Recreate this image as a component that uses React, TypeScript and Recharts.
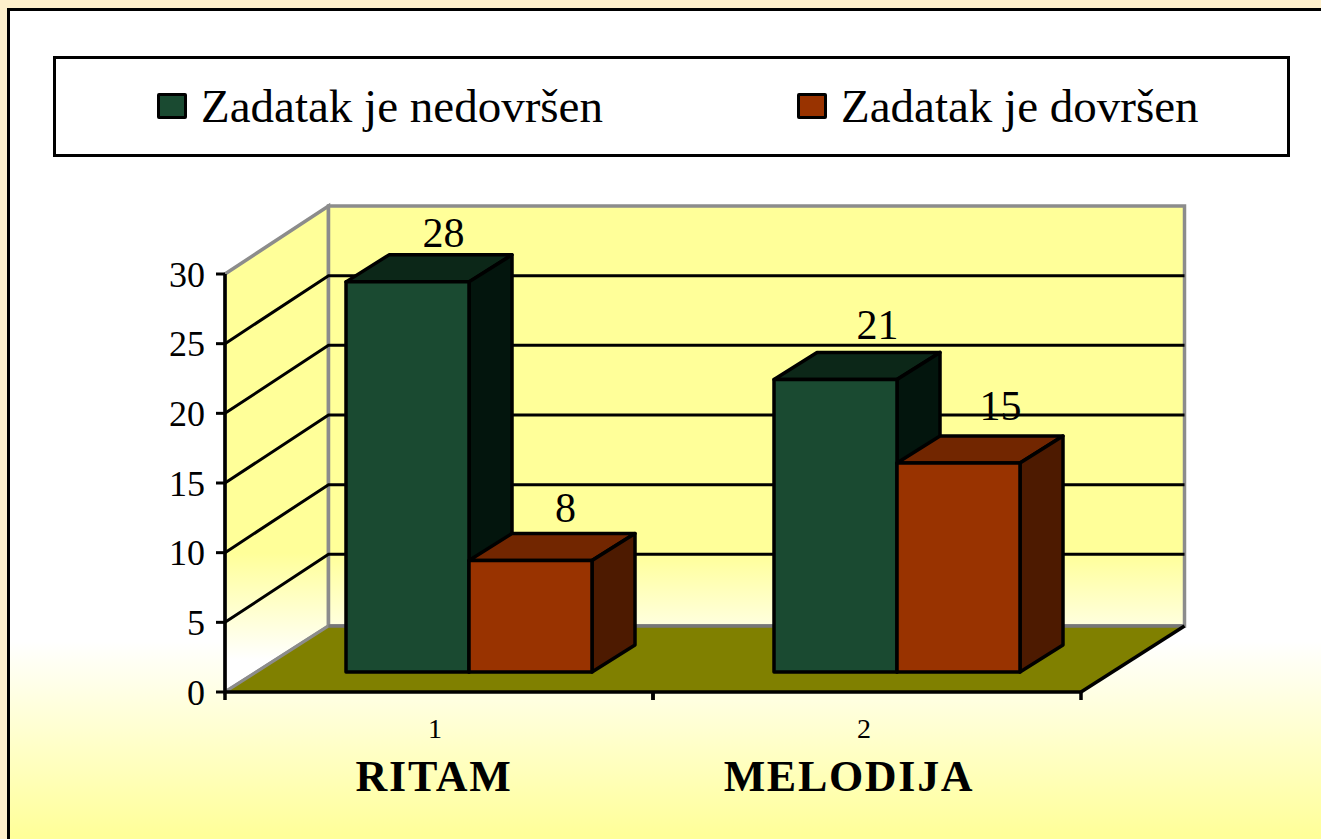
import { BarChart, Bar, XAxis, YAxis, CartesianGrid, Legend, LabelList } from 'recharts'

const CATEGORIES = ['RITAM', 'MELODIJA']
const TICK_NUMBERS = ['1', '2']
const UNFINISHED = [28, 21]
const FINISHED = [8, 15]
const Y_TICKS = [0, 5, 10, 15, 20, 25, 30]
const SERIES_UNFINISHED = 'Zadatak je nedovršen'
const SERIES_FINISHED = 'Zadatak je dovršen'

const chartData = CATEGORIES.map((name, i) => ({
  name,
  unfinished: UNFINISHED[i],
  finished: FINISHED[i],
}))

const FONT = '"Liberation Serif", "Times New Roman", serif'

// plot box in page pixels
const LEFT = 225
const RIGHT = 1081
const TOP = 274
const BOTTOM = 692
// depth of the whole "room" and how far the bars sit inside it
const DEPTH_X = 103.5
const DEPTH_Y = 66
const GRID_DEPTH_Y = 68
const BAR_DX = 30
const BAR_DY = 20
const BAR_DEPTH_X = 43
const BAR_DEPTH_Y = 27

const GREEN = { front: '#1A4A31', top: '#0C2718', side: '#03150D' }
const ORANGE = { front: '#993300', top: '#722600', side: '#4D1A00' }

function Bar3D(props: any) {
  const { x, y, width, height, faces } = props
  const fx = x + BAR_DX
  const fy = y - BAR_DY
  const r = fx + width
  const b = fy + height
  const edge = { stroke: '#000', strokeWidth: 3.5, strokeLinejoin: 'round' as const }
  return (
    <g>
      <polygon
        points={`${fx},${fy} ${fx + BAR_DEPTH_X},${fy - BAR_DEPTH_Y} ${r + BAR_DEPTH_X},${fy - BAR_DEPTH_Y} ${r},${fy}`}
        fill={faces.top}
        {...edge}
      />
      <polygon
        points={`${r},${fy} ${r + BAR_DEPTH_X},${fy - BAR_DEPTH_Y} ${r + BAR_DEPTH_X},${b - BAR_DEPTH_Y} ${r},${b}`}
        fill={faces.side}
        {...edge}
      />
      <rect x={fx} y={fy} width={width} height={height} fill={faces.front} {...edge} />
    </g>
  )
}

// hand nudges, the labels in the original don't sit evenly over the bars
const makeValueLabel = (nudgeX: number[], nudgeY: number[]) => (props: any) => {
  const { x, y, width, value, index } = props
  return (
    <text
      x={x + width / 2 + 66 + nudgeX[index]}
      y={y - 58 + nudgeY[index]}
      textAnchor="middle"
      fontFamily={FONT}
      fontSize={42}
      fill="#000"
    >
      {value}
    </text>
  )
}

// gridline runs up the left wall, then along the back wall
function GridLine(props: any) {
  const { y1 } = props
  if (Math.abs(y1 - BOTTOM) < 1 || Math.abs(y1 - TOP) < 1) return <g />
  const backY = y1 - GRID_DEPTH_Y
  return (
    <polyline
      points={`${LEFT},${y1} ${LEFT + DEPTH_X},${backY} ${RIGHT + DEPTH_X},${backY}`}
      fill="none"
      stroke="#000"
      strokeWidth={3}
    />
  )
}

function CategoryTick(props: any) {
  const { x, y, index } = props
  const half = (RIGHT - LEFT) / 4
  const nudge = index === 0 ? [-4, -5] : [-3, -18]
  return (
    <g fontFamily={FONT} fill="#000">
      <line x1={x - half} x2={x - half} y1={y - 8} y2={y} stroke="#000" strokeWidth={3.5} />
      <line x1={x + half} x2={x + half} y1={y - 8} y2={y} stroke="#000" strokeWidth={3.5} />
      <text x={x + nudge[0]} y={y + 38} textAnchor="middle" fontSize={28}>
        {TICK_NUMBERS[index]}
      </text>
      <text
        x={x + nudge[1]}
        y={y + 91}
        textAnchor="middle"
        fontSize={44}
        fontWeight="bold"
        letterSpacing={1.7}
      >
        {CATEGORIES[index]}
      </text>
    </g>
  )
}

function LegendBox(props: any) {
  const spots = [
    { icon: 157, text: 201 },
    { icon: 797, text: 841 },
  ]
  return (
    <div
      style={{
        position: 'relative',
        width: 1231,
        height: 95,
        border: '3px solid #000',
        background: '#fff',
      }}
    >
      {props.payload.map((item: any, i: number) => (
        <div key={item.value}>
          <div
            style={{
              position: 'absolute',
              left: spots[i].icon - 56,
              top: 34,
              width: 24,
              height: 20,
              border: '3px solid #000',
              borderRadius: 2,
              background: item.color,
            }}
          />
          <div
            style={{
              position: 'absolute',
              left: spots[i].text - 56,
              top: 20,
              fontFamily: FONT,
              fontSize: 47,
              lineHeight: '54px',
              whiteSpace: 'nowrap',
              color: '#000',
            }}
          >
            {item.value}
          </div>
        </div>
      ))}
    </div>
  )
}

export default function App() {
  const backLeft = LEFT + DEPTH_X
  const backRight = RIGHT + DEPTH_X
  const backTop = TOP - GRID_DEPTH_Y
  const backBottom = BOTTOM - DEPTH_Y

  return (
    <div
      style={{
        position: 'absolute',
        left: 0,
        top: 0,
        width: 1321,
        height: 839,
        overflow: 'hidden',
        background: '#FEF0CC',
      }}
    >
      {/* panel, runs off the right and bottom edges */}
      <div
        style={{
          position: 'absolute',
          left: 7,
          top: 8,
          width: 1400,
          height: 840,
          border: '3px solid #000',
          background: 'linear-gradient(to bottom, #fff 0px, #fff 630px, #FFFF99 825px)',
        }}
      />
      {/* walls and floor sit behind the chart */}
      <svg width={1321} height={839} style={{ position: 'absolute', left: 0, top: 0 }}>
        <defs>
          <linearGradient id="wall" x1="0" y1={553} x2="0" y2={660} gradientUnits="userSpaceOnUse">
            <stop offset="0" stopColor="#FFFF99" />
            <stop offset="1" stopColor="#FFFFFF" />
          </linearGradient>
        </defs>
        <polygon
          points={`${LEFT},${TOP} ${backLeft},${backTop} ${backLeft},${backBottom} ${LEFT},${BOTTOM}`}
          fill="url(#wall)"
          stroke="#8C8C8C"
          strokeWidth={3.5}
        />
        <rect
          x={backLeft}
          y={backTop}
          width={backRight - backLeft}
          height={backBottom - backTop}
          fill="url(#wall)"
          stroke="#8C8C8C"
          strokeWidth={3.5}
        />
        <polygon
          points={`${LEFT},${BOTTOM} ${backLeft},${backBottom} ${backRight},${backBottom} ${RIGHT},${BOTTOM}`}
          fill="#808000"
        />
        <line x1={LEFT} y1={BOTTOM} x2={backLeft} y2={backBottom} stroke="#8C8C8C" strokeWidth={3} />
        <line x1={backLeft} y1={backBottom} x2={backRight} y2={backBottom} stroke="#777" strokeWidth={3.5} />
        <line x1={RIGHT} y1={BOTTOM} x2={backRight} y2={backBottom} stroke="#000" strokeWidth={3.5} />
      </svg>
      <div style={{ position: 'absolute', left: 0, top: 0 }}>
        <BarChart
          width={1321}
          height={839}
          data={chartData}
          barGap={0}
          barCategoryGap={91}
          margin={{ top: TOP - 101, right: 1321 - RIGHT, bottom: 47, left: LEFT - 60 }}
        >
          <CartesianGrid vertical={false} horizontal={GridLine as any} />
          <XAxis
            dataKey="name"
            height={100}
            tickLine={false}
            tick={CategoryTick as any}
            interval={0}
            axisLine={{ stroke: '#000', strokeWidth: 3.5 }}
          />
          <YAxis
            width={60}
            domain={[0, 30]}
            ticks={Y_TICKS}
            tickSize={9}
            tickMargin={11}
            tickLine={{ stroke: '#000', strokeWidth: 3 }}
            axisLine={{ stroke: '#000', strokeWidth: 3.5 }}
            tick={{ fontFamily: FONT, fontSize: 36, fill: '#000' }}
          />
          <Legend
            verticalAlign="top"
            itemSorter={null}
            content={LegendBox as any}
            wrapperStyle={{ left: 53, top: 56, width: 1237, height: 101 }}
          />
          <Bar
            dataKey="unfinished"
            name={SERIES_UNFINISHED}
            fill={GREEN.front}
            isAnimationActive={false}
            shape={(p: any) => <Bar3D {...p} faces={GREEN} />}
          >
            <LabelList dataKey="unfinished" content={makeValueLabel([0, 6], [3, -2]) as any} />
          </Bar>
          <Bar
            dataKey="finished"
            name={SERIES_FINISHED}
            fill={ORANGE.front}
            isAnimationActive={false}
            shape={(p: any) => <Bar3D {...p} faces={ORANGE} />}
          >
            <LabelList dataKey="finished" content={makeValueLabel([-1, 6], [-1, -5]) as any} />
          </Bar>
        </BarChart>
      </div>
    </div>
  )
}
